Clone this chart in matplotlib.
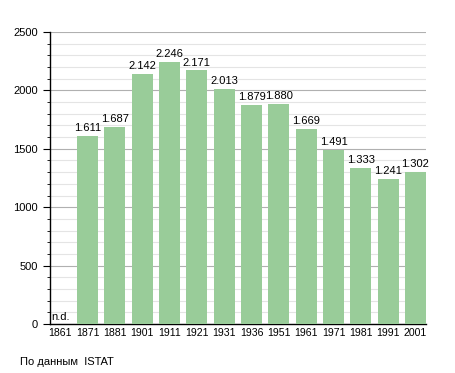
import matplotlib
matplotlib.use("Agg")
import matplotlib.pyplot as plt
from matplotlib.ticker import MultipleLocator

years = ["1861", "1871", "1881", "1901", "1911", "1921", "1931", "1936",
         "1951", "1961", "1971", "1981", "1991", "2001"]
population = [None, 1611, 1687, 2142, 2246, 2171, 2013, 1879,
              1880, 1669, 1491, 1333, 1241, 1302]
value_labels = ["n.d.", "1.611", "1.687", "2.142", "2.246", "2.171", "2.013", "1.879",
                "1.880", "1.669", "1.491", "1.333", "1.241", "1.302"]

plt.rcParams['font.family'] = ['Liberation Sans', 'DejaVu Sans']

fig = plt.figure(figsize=(4.55, 3.73), dpi=100)
ax = fig.add_axes([50/455, 49/373, 376/455, 292/373])

x = list(range(len(years)))
heights = [v if v is not None else 0 for v in population]
ax.bar(x, heights, width=0.77, color='#99cc99', zorder=3)

for i, (v, lab) in enumerate(zip(population, value_labels)):
    if v is None:
        ax.text(i - 0.33, 20, lab, ha='left', va='bottom', fontsize=8, zorder=4)
    else:
        ax.text(i, v + 25, lab, ha='center', va='bottom', fontsize=8, zorder=4)

ax.set_xlim(-0.373, 13.385)
ax.set_ylim(0, 2500)
ax.set_xticks(x)
ax.set_xticklabels(years, fontsize=7.6)
ax.tick_params(axis='x', length=0, pad=3)
ax.yaxis.set_major_locator(MultipleLocator(500))
ax.yaxis.set_minor_locator(MultipleLocator(100))
ax.tick_params(axis='y', which='major', length=5, labelsize=8, pad=3.5)
ax.tick_params(axis='y', which='minor', length=2.2)
ax.grid(axis='y', which='major', color='#b0b0b0', linewidth=0.8, zorder=0)
ax.grid(axis='y', which='minor', color='#e4e4e4', linewidth=0.8, zorder=0)
for s in ['top', 'right']:
    ax.spines[s].set_visible(False)
ax.spines['left'].set_linewidth(1)
ax.spines['bottom'].set_linewidth(1)

fig.text(20/455, 1 - 362/373, "По данным  ISTAT", fontsize=8, va='center', ha='left')

fig.savefig("out.png", dpi=100)
